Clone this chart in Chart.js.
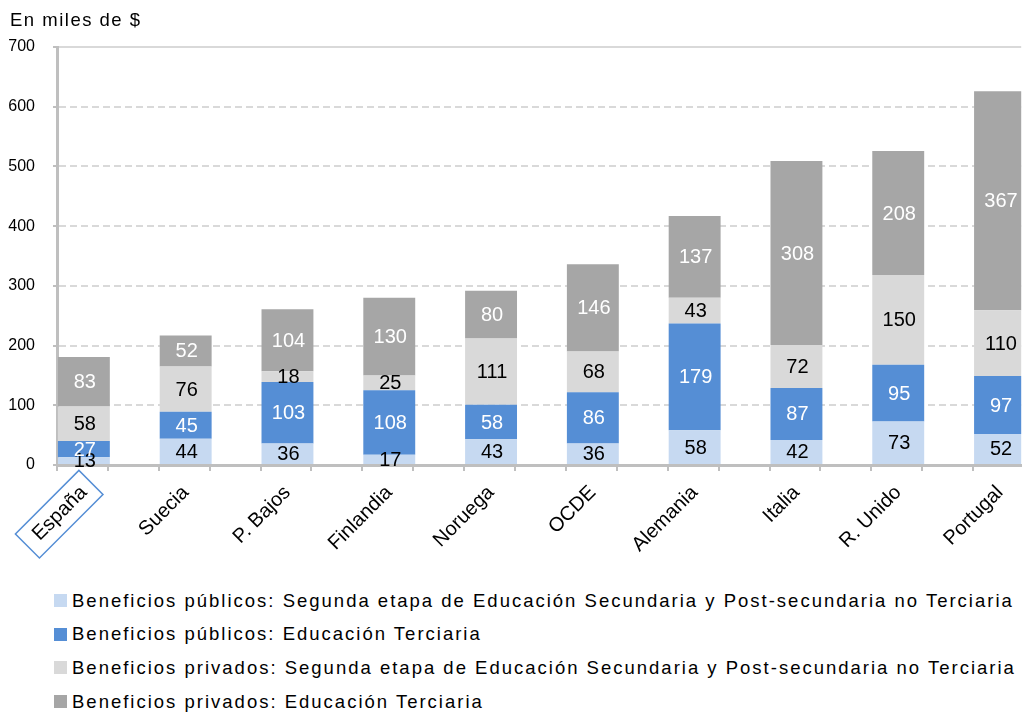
<!DOCTYPE html>
<html>
<head>
<meta charset="utf-8">
<script src="https://cdn.jsdelivr.net/npm/chart.js@4.4.1/dist/chart.umd.min.js"></script>
<style>
    html, body { margin: 0; padding: 0; background: #fff; overflow: hidden; }
    #wrap { position: relative; width: 1025px; height: 718px; }
    #title {
        position: absolute; left: 10px; top: 8px;
        font-family: "Liberation Sans", Arial, sans-serif;
        font-size: 18.5px; letter-spacing: 1.5px; color: #000; line-height: 24px;
    }
    #legend {
        position: absolute; left: 54px; top: 584px;
        font-family: "Liberation Sans", Arial, sans-serif;
        font-size: 18.5px; letter-spacing: 2px; color: #000;
    }
    .row { height: 33.6px; display: flex; align-items: center; white-space: nowrap; }
    .sw { width: 13px; height: 13px; margin-right: 5px; flex: none; }
</style>
</head>
<body>
<div id="wrap">
    <canvas id="chart" width="1025" height="580"></canvas>
    <div id="title">En miles de $</div>
    <div id="legend"></div>
</div>
<script>
const categories = ['España', 'Suecia', 'P. Bajos', 'Finlandia', 'Noruega', 'OCDE', 'Alemania', 'Italia', 'R. Unido', 'Portugal'];
const seriesNames = [
    'Beneficios públicos: Segunda etapa de Educación Secundaria y Post-secundaria no Terciaria',
    'Beneficios públicos: Educación Terciaria',
    'Beneficios privados: Segunda etapa de Educación Secundaria y Post-secundaria no Terciaria',
    'Beneficios privados: Educación Terciaria'
];
const publicSecondary = [13, 44, 36, 17, 43, 36, 58, 42, 73, 52];
const publicTertiary = [27, 45, 103, 108, 58, 86, 179, 87, 95, 97];
const privateSecondary = [58, 76, 18, 25, 111, 68, 43, 72, 150, 110];
const privateTertiary = [83, 52, 104, 130, 80, 146, 137, 308, 208, 367];
const yMax = 700;
const yStep = 100;

const colors = ['#c6d9f1', '#558ed5', '#d9d9d9', '#a6a6a6'];
const labelColors = ['#000', '#fff', '#000', '#fff'];
const FONT = '"Liberation Sans", Arial, sans-serif';

const series = [publicSecondary, publicTertiary, privateSecondary, privateTertiary];

const valueLabels = {
    id: 'valueLabels',
    afterDatasetsDraw(chart) {
        const ctx = chart.ctx;
        ctx.save();
        ctx.font = '20px ' + FONT;
        ctx.textAlign = 'center';
        ctx.textBaseline = 'middle';
        chart.data.datasets.forEach((ds, di) => {
            chart.getDatasetMeta(di).data.forEach((bar, i) => {
                ctx.fillStyle = labelColors[di];
                ctx.fillText(String(ds.data[i].y), bar.x + 1, (bar.y + bar.base) / 2 + 1);
            });
        });
        ctx.restore();
    }
};

const axisExtras = {
    id: 'axisExtras',
    afterDraw(chart) {
        const ctx = chart.ctx;
        const x = chart.scales.x;
        ctx.save();
        // small tick marks under the category axis
        ctx.strokeStyle = '#bfbfbf';
        ctx.lineWidth = 2;
        for (let v = x.min; v <= x.max; v += 0.5) {
            const px = Math.round(x.getPixelForValue(v));
            ctx.beginPath();
            ctx.moveTo(px, x.top);
            ctx.lineTo(px, x.top + 6);
            ctx.stroke();
        }
        // box around the first category label
        const item = x.getLabelItems().find(t => t.label === categories[0]);
        if (item) {
            const o = item.options;
            ctx.translate(o.translation[0], o.translation[1]);
            ctx.rotate(o.rotation);
            ctx.font = item.font.string;
            const w = ctx.measureText(item.label).width;
            ctx.strokeStyle = '#558ed5';
            ctx.lineWidth = 1.5;
            ctx.strokeRect(-w - 12, item.textOffset - 17, w + 22, 34);
        }
        ctx.restore();
    }
};

new Chart(document.getElementById('chart'), {
    type: 'bar',
    data: {
        datasets: series.map((arr, si) => ({
            label: seriesNames[si],
            data: arr.map((v, i) => ({ x: i, y: v })),
            backgroundColor: colors[si],
            borderWidth: 0,
            barPercentage: 0.51,
            categoryPercentage: 1
        }))
    },
    options: {
        responsive: false,
        animation: false,
        devicePixelRatio: 1,
        layout: { padding: { left: 0, right: 0, top: 47, bottom: 0 } },
        plugins: {
            legend: { display: false },
            tooltip: { enabled: false }
        },
        scales: {
            x: {
                type: 'linear',
                stacked: true,
                offset: false,
                min: -0.264,
                max: 9.208,
                grid: { display: false },
                border: { color: '#bfbfbf', width: 3 },
                ticks: {
                    stepSize: 1,
                    includeBounds: false,
                    autoSkip: false,
                    minRotation: 45,
                    maxRotation: 45,
                    padding: 8,
                    color: '#000',
                    font: { family: FONT, size: 20 },
                    callback: v => categories[v] ?? ''
                },
                afterFit: s => { s.height = 115; }
            },
            y: {
                stacked: true,
                min: 0,
                max: yMax,
                grid: { color: '#d9d9d9', lineWidth: 2, tickLength: 4, tickColor: '#bfbfbf' },
                border: {
                    color: '#bfbfbf',
                    width: 3,
                    dash: c => (c.tick && c.tick.value === yMax ? [] : [7, 4])
                },
                ticks: {
                    stepSize: yStep,
                    padding: 18,
                    color: '#000',
                    font: { family: FONT, size: 16 }
                },
                afterFit: s => { s.width = 57; }
            }
        }
    },
    plugins: [valueLabels, axisExtras]
});

const legend = document.getElementById('legend');
seriesNames.forEach((name, i) => {
    const row = document.createElement('div');
    row.className = 'row';
    const sw = document.createElement('span');
    sw.className = 'sw';
    sw.style.background = colors[i];
    const txt = document.createElement('span');
    txt.textContent = name;
    row.appendChild(sw);
    row.appendChild(txt);
    legend.appendChild(row);
});
</script>
</body>
</html>
